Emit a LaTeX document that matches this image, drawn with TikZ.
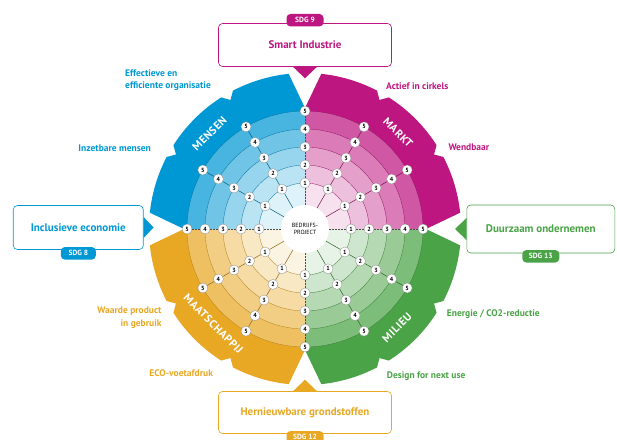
\documentclass[tikz,border=0pt]{standalone}
\usepackage{fontspec}
\setmainfont{PT Sans}

\definecolor{mensen}{RGB}{0,152,212}
\definecolor{markt}{RGB}{190,22,128}
\definecolor{maatschappij}{RGB}{232,168,36}
\definecolor{milieu}{RGB}{74,163,70}

\tikzset{
  goalbox/.style={draw=#1, fill=white, text=#1, rounded corners=4pt, line width=0.6pt,
    font=\fontsize{11}{13}\selectfont\bfseries},
  sdgtag/.style={fill=#1, text=white, rounded corners=4pt, minimum width=37pt,
    minimum height=12.5pt, inner sep=0pt, font=\fontsize{7.5}{8}\selectfont\bfseries},
  factor/.style={text=#1, inner sep=0pt, font=\fontsize{9.5}{12.5}\selectfont\bfseries},
  quadname/.style={text=white, inner sep=0pt,
    font=\fontsize{11}{12}\selectfont\bfseries\addfontfeature{LetterSpace=5}},
  numdot/.style={circle, fill=white, draw=black!45, line width=0.3pt, minimum size=10pt,
    inner sep=0pt, font=\fontsize{6}{6}\selectfont\bfseries},
  hub/.style={circle, fill=white, minimum size=48pt, inner sep=0pt, align=center,
    font=\fontsize{6}{7}\selectfont},
  axisline/.style={draw=black!70, line width=0.7pt, dash pattern=on 2pt off 1pt},
  spoke/.style={draw=#1!60!black, line width=0.5pt}
}

\begin{document}
\begin{tikzpicture}[x=1pt, y=1pt]
    \useasboundingbox (-305,-210) rectangle (312,229);

    % kwadranten met ringen
    \foreach \a/\c in {0/markt,90/mensen,180/maatschappij,270/milieu}{
        \begin{scope}[rotate=\a]
            \fill[\c] (0:121) -- (6:156) arc[start angle=6, end angle=27.5, radius=156]
                -- (30:149) -- (32.5:156) arc[start angle=32.5, end angle=57.5, radius=156]
                -- (60:149) -- (62.5:156) arc[start angle=62.5, end angle=84, radius=156]
                -- (90:121) -- (0,0) -- cycle;
            \foreach \r/\p in {118/72,100/56,82/41,64/27,46/13}
                \fill[\c!\p!white] (0,0) -- (0:\r) arc[start angle=0, end angle=90, radius=\r] -- cycle;
            \foreach \r in {46,64,82,100,118}
                \draw[\c!75!black, line width=0.3pt] (0:\r) arc[start angle=0, end angle=90, radius=\r];
        \end{scope}
    }

    \node[hub] (hub) at (0,0) {BEDRIJFS-\\PROJECT};

    \foreach \a in {0,30,...,330}
        \foreach \k in {1,...,5}
            \node[numdot] (n\a-\k) at (\a:28+18*\k) {\k};

    \foreach \a in {0,90,180,270}
        \draw[axisline] (hub) -- (n\a-1) -- (n\a-2) -- (n\a-3) -- (n\a-4) -- (n\a-5);
    \foreach \a/\c in {30/markt,60/markt,120/mensen,150/mensen,210/maatschappij,240/maatschappij,300/milieu,330/milieu}
        \draw[spoke=\c] (hub) -- (n\a-1) -- (n\a-2) -- (n\a-3) -- (n\a-4) -- (n\a-5);

    \node[quadname, rotate=45] (mensen) at (135:135) {MENSEN};
    \node[quadname, rotate=-45] (markt) at (46:134) {MARKT};
    \node[quadname, rotate=-45] (maatsch) at (226:132) {MAATSCHAPPIJ};
    \node[quadname, rotate=45] (milieu) at (313:135) {MILIEU};

    % doelen
    \node[goalbox=markt, minimum width=173pt, minimum height=43pt] (smart) at (0,184) {Smart Industrie};
    \node[sdgtag=markt] (sdg9) at ([yshift=3pt]smart.north) {SDG 9};
    \fill[markt] ([xshift=-12pt]smart.south) -- ([xshift=12pt]smart.south) -- ([yshift=-11.5pt]smart.south) -- cycle;

    \node[goalbox=mensen, minimum width=130pt, minimum height=44pt] (incl) at (-226.7,1.5) {Inclusieve economie};
    \node[sdgtag=mensen, minimum width=35pt] (sdg8) at ([yshift=-3.5pt]incl.south) {SDG 8};
    \fill[mensen] ([yshift=10.5pt]incl.east) -- ([yshift=-10.5pt]incl.east) -- ([xshift=10pt]incl.east) -- cycle;

    \node[goalbox=milieu, minimum width=148pt, minimum height=48pt] (duurz) at (235.8,0) {Duurzaam ondernemen};
    \node[sdgtag=milieu] (sdg13) at ([yshift=-3pt]duurz.south) {SDG 13};
    \fill[milieu] ([yshift=11pt]duurz.west) -- ([yshift=-11pt]duurz.west) -- ([xshift=-11.5pt]duurz.west) -- cycle;

    \node[goalbox=maatschappij, minimum width=173pt, minimum height=42pt] (hern) at (0,-183.5) {Hernieuwbare grondstoffen};
    \node[sdgtag=maatschappij] (sdg12) at ([yshift=-3.5pt]hern.south) {SDG 12};
    \fill[maatschappij] ([xshift=-12pt]hern.north) -- ([xshift=12pt]hern.north) -- ([yshift=11.5pt]hern.north) -- cycle;

    % thema's
    \node[factor=mensen, anchor=west, align=left] (effect) at (-180,148.7) {Effectieve en\\efficiente organisatie};
    \node[factor=mensen, anchor=west] (inzet) at (-226.7,80.7) {Inzetbare mensen};
    \node[factor=markt, anchor=west] (actief) at (81,143) {Actief in cirkels};
    \node[factor=markt, anchor=west] (wend) at (143.3,81.7) {Wendbaar};
    \node[factor=maatschappij, anchor=east, align=right] (waarde) at (-143.3,-88.8) {Waarde product\\in gebruik};
    \node[factor=maatschappij, anchor=west] (eco) at (-155.7,-143.7) {ECO-voetafdruk};
    \node[factor=milieu, anchor=west] (energie) at (141.7,-85) {Energie / CO2-reductie};
    \node[factor=milieu, anchor=west] (design) at (81.7,-147) {Design for next use};
\end{tikzpicture}
\end{document}
